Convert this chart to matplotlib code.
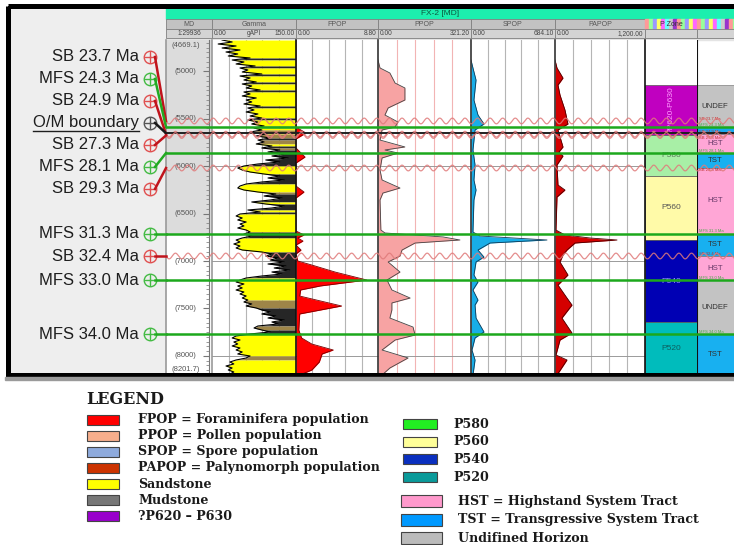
import numpy as np
import matplotlib
matplotlib.use('Agg')
import matplotlib.pyplot as plt
from matplotlib.patches import Rectangle

plt.rcParams['font.family'] = ['Liberation Sans', 'DejaVu Sans']

W, H = 734, 545
TOP_D, BOT_D = 4669.1, 8201.7

# gamma ray (gAPI), one reading every GR_STEP ft below TOP_D
GR_STEP = 21.09
gamma = [18, 36, 11, 43, 18, 50, 25, 46, 29, 68,
         36, 57, 43, 77, 50, 64, 54, 89, 50, 68,
         57, 79, 54, 71, 61, 86, 57, 68, 54, 79,
         61, 71, 57, 86, 64, 75, 61, 82, 68, 89,
         64, 82, 71, 93, 75, 89, 68, 96, 79, 104,
         82, 93, 79, 107, 89, 121, 100, 132, 107, 136,
         96, 121, 82, 57, 46, 54, 68, 93, 121, 100,
         129, 89, 61, 50, 46, 57, 82, 114, 93, 125,
         104, 71, 96, 129, 107, 64, 86, 50, 43, 54,
         46, 61, 50, 57, 46, 61, 68, 57, 71, 54,
         43, 50, 39, 50, 43, 54, 89, 107, 96, 118,
         104, 129, 100, 132, 111, 139, 107, 125, 89, 61,
         50, 43, 57, 46, 54, 43, 57, 50, 61, 54,
         64, 57, 71, 61, 79, 89, 104, 89, 114, 100,
         129, 107, 118, 82, 75, 89, 104, 68, 43, 36,
         50, 39, 46, 36, 50, 43, 54, 46, 68, 61,
         43, 32, 39, 25, 36, 29, 39, 32]
# S = sandstone, M = mudstone, B = silty
litho = ("SSSSSSSSSM" "SSSMSSSMSS" "SMSSSMSSSS" "SSSMSSSSSM"
         "SSSBSBSBBM" "BBSMBMMMMM" "MMMSSSSMMM" "MMSSSSBMMM"
         "MSMMMSMSSS" "SSSSSSMMMS" "SSSSSSMMMM" "MMMMMMMMMS"
         "SSSSSSSSSS" "BBBBMMMMMM" "MMMBBMMSSS" "SSSSSSSSBB"
         "SSSSSSSS")

fpop_depth = [4669, 5587, 5650, 5713, 5808, 5903, 5966, 6209, 6272, 6335,
              6683, 6725, 6757, 6789, 6831, 6884, 6926, 7000, 7042, 7116,
              7200, 7263, 7305, 7369, 7474, 7558, 7727, 7811, 7875, 7938,
              7980, 8065, 8149, 8202]
fpop = [0, 0, 1.07, 0, 0, 0.97, 0, 0, 0.86, 0,
        0, 0.86, 0.2, 0.75, 0, 0.54, 0, 0.2, 1.7, 4.2,
        7.6, 2.6, 0.5, 0.4, 4.9, 0.4, 0.3, 0.6, 1.7, 4.0,
        2.8, 2.5, 1.7, 0.4]

ppop_depth = [4880, 4964, 5017, 5123, 5175, 5302, 5386, 5460, 5534, 5587,
              5618, 5724, 5797, 5829, 5861, 5913, 6040, 6145, 6230, 6283,
              6356, 6673, 6704, 6746, 6778, 6810, 6884, 6947, 7010, 7116,
              7200, 7305, 7390, 7442, 7516, 7601, 7696, 7780, 7833, 7938,
              8022, 8128, 8202]
ppop = [0, 7, 41, 59, 93, 93, 35, 24, 69, 59,
        14, 7, 93, 24, 69, 14, 7, 14, 76, 17,
        7, 10, 24, 225, 283, 128, 83, 76, 35, 76,
        31, 48, 111, 48, 48, 41, 121, 128, 59, 14,
        104, 41, 14]

spop_depth = [4880, 4964, 5091, 5302, 5460, 5555, 5618, 5829, 5987, 6145,
              6251, 6356, 6694, 6736, 6778, 6810, 6884, 6958, 7010, 7147,
              7221, 7305, 7411, 7464, 7601, 7748, 7811, 7938, 8043, 8202]
spop = [0, 16, 41, 24, 57, 106, 33, 16, 33, 24,
        41, 24, 16, 73, 619, 155, 57, 106, 41, 24,
        57, 16, 57, 33, 41, 106, 33, 8, 33, 16]

papop_depth = [4880, 4964, 5070, 5144, 5249, 5407, 5555, 5618, 5797, 5850,
               5892, 5987, 6198, 6251, 6325, 6673, 6725, 6757, 6778, 6810,
               6884, 6936, 7010, 7147, 7253, 7390, 7464, 7601, 7759, 7833,
               7991, 8043, 8202]
papop = [0, 27, 107, 40, 67, 133, 173, 40, 107, 53,
         107, 27, 40, 133, 27, 13, 133, 467, 827, 267,
         160, 107, 67, 173, 40, 160, 227, 93, 227, 67,
         13, 160, 27]

zone_names = ['?P620-P630', 'P580', 'P560', 'P540', 'P520']
zone_top = [5144, 5671, 6103, 6778, 7643]
zone_base = [5671, 6103, 6778, 7643, 8202]

tract_names = ['UNDEF', '', 'HST', 'TST', 'HST', 'TST', 'HST', 'UNDEF', 'TST']
tract_top = [5144, 5587, 5660, 5861, 6019, 6710, 6947, 7200, 7770]
tract_base = [5587, 5660, 5861, 6019, 6710, 6947, 7200, 7770, 8202]

hz_names = ['SB 23.7 Ma', 'MFS 24.3 Ma', 'SB 24.9 Ma', 'O/M boundary', 'SB 27.3 Ma',
            'MFS 28.1 Ma', 'SB 29.3 Ma', 'MFS 31.3 Ma', 'SB 32.4 Ma', 'MFS 33.0 Ma',
            'MFS 34.0 Ma']
hz_depth = [5523, 5586, 5662, 5652, 5676, 5861, 6019, 6710, 6947, 7200, 7770]
hz_label_depth = [4848, 5080, 5312, 5544, 5776, 6008, 6240, 6710, 6947, 7200, 7770]

md_ticks = [5000, 5500, 6000, 6500, 7000, 7500, 8000]

legend_left = ['FPOP = Foraminifera population', 'PPOP = Pollen population',
               'SPOP = Spore population', 'PAPOP = Palynomorph population',
               'Sandstone', 'Mudstone', '?P620 \u2013 P630']
legend_left_colors = ['#ff0000', '#f6ae8c', '#8eaadc', '#cc3300', '#ffff00', '#777777', '#9900cc']
legend_zone = ['P580', 'P560', 'P540', 'P520']
legend_zone_colors = ['#22ee22', '#ffff99', '#0a2fbf', '#0a9a9a']
legend_tract = ['HST = Highstand System Tract', 'TST = Transgressive System Tract',
                'Undifined Horizon']
legend_tract_colors = ['#ff99cc', '#0099ff', '#bbbbbb']

zone_colors = ['#c000c0', '#a8efa6', '#fffaa8', '#0000b4', '#00bcbc']
zone_text = ['#ff99ff', '#5a7a5a', '#555555', '#9a9aff', '#0d5f5f']
tract_colors = {'UNDEF': '#c3c3c3', '': '#18a8f0', 'HST': '#ffa6d6', 'TST': '#18b0f0'}


def box(x0, y0, x1, y1):
    return [x0 / W, 1 - y1 / H, (x1 - x0) / W, (y1 - y0) / H]


fig = plt.figure(figsize=(W / 100, H / 100), dpi=100)


def pixel_axes(z):
    ax = fig.add_axes([0, 0, 1, 1], zorder=z)
    ax.set_xlim(0, W)
    ax.set_ylim(H, 0)
    ax.axis('off')
    return ax


back = pixel_axes(0)
front = pixel_axes(10)

# panels and header bars
back.add_patch(Rectangle((10, 8), 156, 366, color='#eeeeee'))
back.add_patch(Rectangle((166, 8), 580, 11, color='#1cefae'))
back.text(440, 13.5, 'FX-2 [MD]', ha='center', va='center', fontsize=6, color='#0b5a40')
back.add_patch(Rectangle((166, 38), 580, 2, color='#e4e4e4'))


def header(x0, x1, name, lo='', hi='', unit=''):
    back.add_patch(Rectangle((x0, 19), x1 - x0, 10, fc='#c2c2c2', ec='#808080', lw=0.6))
    back.add_patch(Rectangle((x0, 29), x1 - x0, 9, fc='#d4d4d4', ec='#808080', lw=0.6))
    back.text((x0 + x1) / 2, 24.5, name, ha='center', va='center', fontsize=5, color='#555')
    kw = dict(va='center', fontsize=4.8, color='#444')
    back.text(x0 + 1.5, 33.5, lo, ha='left', **kw)
    back.text(x1 - 1.5, 33.5, hi, ha='right', **kw)
    back.text((x0 + x1) / 2, 33.5, unit, ha='center', **kw)


header(166, 212, 'MD', unit='1:29936')
header(212, 296, 'Gamma', '0.00', '150.00', 'gAPI')
header(296, 378, 'FPOP', '0.00', '8.80')
header(378, 471, 'PPOP', '0.00', '321.20')
header(471, 555, 'SPOP', '0.00', '684.10')
header(555, 645, 'PAPOP', '0.00', '1,200.00')
stripe = ['#ff9999', '#99ff99', '#9999ff', '#ffff66', '#ff66ff', '#66ffff', '#cccccc', '#9933cc']
for x0, x1 in [(645, 697), (697, 745)]:
    for k, x in enumerate(np.arange(x0, x1, 4)):
        back.add_patch(Rectangle((x, 19), 4, 10, color=stripe[k % len(stripe)]))
    back.add_patch(Rectangle((x0, 29), x1 - x0, 9, fc='#d4d4d4', ec='#808080', lw=0.6))
back.text(671, 24, 'P Zone', ha='center', va='center', fontsize=5, color='#333')


def track(x0, x1, lo, hi, grid='#b5b5b5', edge='#444'):
    ax = fig.add_axes(box(x0, 40, x1, 375), zorder=2)
    ax.set_xlim(lo, hi)
    ax.set_ylim(BOT_D, TOP_D)
    ax.set_xticks([])
    ax.set_yticks([])
    for s in ax.spines.values():
        s.set_visible(False)
    ax.spines['left'].set_visible(True)
    ax.spines['left'].set_color(edge)
    ax.spines['left'].set_linewidth(1.2)
    if grid:
        for k in range(1, 5):
            ax.axvline(lo + (hi - lo) * k / 5, color=grid, lw=0.8, zorder=0)
        for d in (6000, 7000, 8000):
            ax.axhline(d, color='#9a9a9a', lw=0.7, zorder=0)
    return ax


# MD track
ax_md = track(166, 212, 0, 1, grid=None, edge='#999')
ax_md.axhspan(TOP_D, 6710, color='#dcdcdc', lw=0)
ax_md.spines['right'].set_visible(True)
ax_md.spines['right'].set_position(('axes', 0.93))
ax_md.spines['right'].set_color('#777')
ax_md.yaxis.tick_right()
ax_md.set_yticks(md_ticks)
ax_md.set_yticks(np.arange(4700, 8201, 50), minor=True)
ax_md.tick_params(axis='y', which='major', direction='in', length=4, color='#777', labelright=False)
ax_md.tick_params(axis='y', which='minor', direction='in', length=2, color='#888')
for d in md_ticks:
    ax_md.text(0.42, d, '(%d)' % d, ha='center', va='center', fontsize=5.5, color='#555')
ax_md.text(0.42, TOP_D + 25, '(%.1f)' % TOP_D, ha='center', va='top', fontsize=5.5, color='#555')
ax_md.text(0.42, BOT_D - 25, '(%.1f)' % BOT_D, ha='center', va='bottom', fontsize=5.5, color='#555')

# Gamma track with lithology fill
ax_gr = track(212, 296, 0, 150, edge='#999')
lith_color = {'S': '#ffff00', 'M': '#262626', 'B': '#9e8548'}
gd = TOP_D + GR_STEP * np.arange(len(gamma))
g = np.array(gamma)
i = 0
while i < len(g):
    j = i
    while j + 1 < len(g) and litho[j + 1] == litho[i]:
        j += 1
    sl = slice(i, min(j + 2, len(g)))
    ax_gr.fill_betweenx(gd[sl], g[sl], 150, color=lith_color[litho[i]], lw=0, zorder=1)
    i = j + 1
ax_gr.plot(g, gd, color='black', lw=0.8, zorder=2)

# population tracks
ax_fp = track(296, 378, 0, 8.8, edge='#111')
ax_pp = track(378, 471, 0, 321.2, grid='#f2b4b4', edge='#333')
ax_sp = track(471, 555, 0, 684.1, edge='#333')
ax_pa = track(555, 645, 0, 1200, edge='#333')
for ax, d, v, fc, ec in [(ax_fp, fpop_depth, fpop, '#ff0000', '#7a0000'),
                         (ax_pp, ppop_depth, ppop, '#f7a3a3', '#444444'),
                         (ax_sp, spop_depth, spop, '#18aee8', '#123a55'),
                         (ax_pa, papop_depth, papop, '#d50000', '#4a0000')]:
    ax.fill_betweenx(d, 0, v, color=fc, lw=0, zorder=1)
    ax.plot(v, d, color=ec, lw=0.6, zorder=2)

# zone column
ax_zn = track(645, 697, 0, 1, grid=None, edge='#111')
for name, t, b, c, tc in zip(zone_names, zone_top, zone_base, zone_colors, zone_text):
    ax_zn.axhspan(t, b, fc=c, ec='#555', lw=0.5)
    rot = 90 if name.startswith('?') else 0
    ax_zn.text(0.5, (t + b) / 2, name, ha='center', va='center', rotation=rot,
               fontsize=6, color=tc)

# system tract column
ax_st = fig.add_axes(box(697, 40, 745, 375), zorder=2)
ax_st.set_xlim(0, 1)
ax_st.set_ylim(BOT_D, TOP_D)
ax_st.axis('off')
for name, t, b in zip(tract_names, tract_top, tract_base):
    ax_st.axhspan(t, b, fc=tract_colors[name], ec='#666', lw=0.4)
    col = '#6a3a6a' if name == 'HST' else '#333'
    ax_st.text(0.38, (t + b) / 2, name, ha='center', va='center', fontsize=5.6, color=col)
ax_st.axvline(0, color='#111', lw=1.5)

# horizons across all tracks
ax_hz = fig.add_axes(box(166, 40, 745, 375), zorder=5)
ax_hz.set_xlim(0, 1)
ax_hz.set_ylim(BOT_D, TOP_D)
ax_hz.axis('off')
xs = np.linspace(0, 1, 3000)
tiny_below = ('SB 27.3 Ma', 'SB 29.3 Ma')
for name, d in zip(hz_names, hz_depth):
    if name.startswith('SB'):
        ax_hz.plot(xs, d + 30 * np.sin(2 * np.pi * 46 * xs), color='#e07a7a', lw=0.9, alpha=0.85)
        tc = '#c03030'
    elif name.startswith('MFS'):
        ax_hz.axhline(d, color='#1ca81c', lw=1.8)
        tc = '#4aa84a'
    else:
        ax_hz.axhline(d, color='#202020', lw=1.4)
        continue
    if name in tiny_below:
        ax_st.text(0.05, d + 4, name, ha='left', va='top', fontsize=3, color=tc)
    else:
        ax_st.text(0.05, d - 4, name, ha='left', va='bottom', fontsize=3, color=tc)

# horizon labels on the left
ax_lb = fig.add_axes(box(10, 40, 166, 375), zorder=6)
ax_lb.set_xlim(0, 156)
ax_lb.set_ylim(BOT_D, TOP_D)
ax_lb.axis('off')
underline = []
for name, d, ld in zip(hz_names, hz_depth, hz_label_depth):
    if name.startswith('SB'):
        line_c, mark_c = '#c0141c', '#e05050'
    elif name.startswith('MFS'):
        line_c, mark_c = '#22aa22', '#44bb44'
    else:
        line_c, mark_c = '#1a1a1a', '#555555'
    t = ax_lb.text(129, ld, name, ha='right', va='center', fontsize=12, color='#1e1e1e')
    if name.startswith('O/M'):
        underline.append(t)
    ax_lb.plot([140], [ld], 'o', ms=9, mfc='none', mec=mark_c, mew=1)
    ax_lb.plot([140], [ld], '+', ms=9, mec=mark_c, mew=1)
    ax_lb.plot([145, 156], [ld, d], color=line_c, lw=1.8, clip_on=False)

fig.canvas.draw()
for t in underline:
    bb = t.get_window_extent()
    front.plot([bb.x0, bb.x1], [H - bb.y0 + 0.5] * 2, color='#1e1e1e', lw=1)

# frame
front.add_patch(Rectangle((7.5, 6), 740, 369, fill=False, ec='black', lw=3.6))
front.add_patch(Rectangle((5, 377), 740, 3, color='#9a9a9a'))

# legend
lkw = dict(fontsize=9.1, fontweight='bold', family='DejaVu Serif', color='#1a1a1a', va='center')
front.text(86, 400, 'LEGEND', fontsize=11.5, fontweight='bold', family='DejaVu Serif',
           color='#1a1a1a', va='center')
for k, (lab, c) in enumerate(zip(legend_left, legend_left_colors)):
    y = 420 + 16 * k
    front.add_patch(Rectangle((87, y - 5), 32, 10, fc=c, ec='#444', lw=0.8))
    front.text(138, y, lab, **lkw)
for k, (lab, c) in enumerate(zip(legend_zone, legend_zone_colors)):
    y = 424 + 17.7 * k
    front.add_patch(Rectangle((403, y - 5), 34, 10, fc=c, ec='#444', lw=0.8))
    front.text(453, y, lab, **lkw)
for k, (lab, c) in enumerate(zip(legend_tract, legend_tract_colors)):
    y = 501 + 18.5 * k
    front.add_patch(Rectangle((401, y - 6), 41, 12, fc=c, ec='#444', lw=0.8))
    front.text(458, y, lab, **lkw)

fig.savefig('out.png', dpi=100)
